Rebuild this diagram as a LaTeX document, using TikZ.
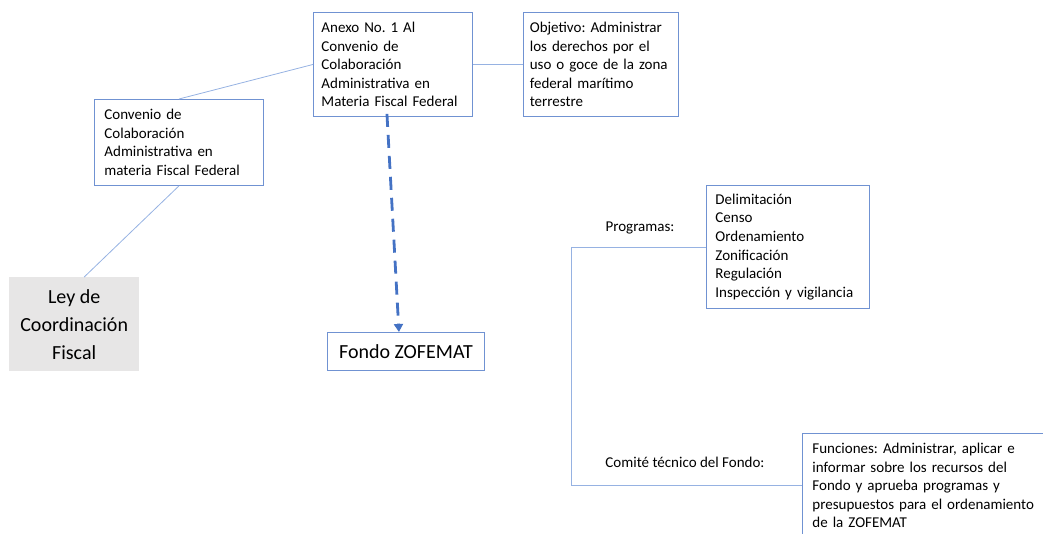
\documentclass[tikz,border=0pt]{standalone}
\usepackage{fontspec}
\setmainfont{Carlito}
\usetikzlibrary{positioning,arrows.meta}
\definecolor{bxblue}{RGB}{112,146,210}
\definecolor{lnblue}{RGB}{150,178,226}
\definecolor{arblue}{RGB}{68,114,196}
\definecolor{leygray}{RGB}{231,230,230}
\frenchspacing
\tikzset{
  bx/.style={draw=bxblue, line width=0.9pt, font=\fontsize{15}{18.6}\selectfont, align=left, inner xsep=8pt, inner ysep=4pt, anchor=north west},
  ley/.style={fill=leygray, font=\fontsize{20}{28}\selectfont, align=center, inner sep=0pt, minimum width=130pt, minimum height=94pt, anchor=north west},
  fondo/.style={draw=bxblue, line width=0.9pt, font=\fontsize{20}{24}\selectfont, minimum width=157pt, minimum height=38pt, inner sep=0pt, anchor=north west},
  lbl/.style={font=\fontsize{15}{18}\selectfont, inner sep=0pt},
  ln/.style={draw=lnblue, line width=0.8pt},
  dsh/.style={-{Triangle[length=8pt,width=9pt]}, arblue, line width=2.8pt, dash pattern=on 13pt off 8pt},
}

\begin{document}
\begin{tikzpicture}[x=1pt,y=-1pt]
\useasboundingbox (0,0) rectangle (1043,533);
\clip (0,0) rectangle (1043,533);
\node[bx, text width=143pt, minimum height=104pt] (anexo) at (313,12)
  {Anexo No. 1 Al\\Convenio de\\Colaboración\\Administrativa en\\Materia Fiscal Federal};
\node[bx, inner xsep=6.5pt, text width=142pt, minimum height=104pt, right=50pt of anexo] (obj)
  {Objetivo: Administrar\\los derechos por el\\uso o goce de la zona\\federal marítimo\\terrestre};
\node[bx, inner xsep=10pt, text width=149pt, minimum height=86pt] (conv) at (94,99)
  {Convenio de\\Colaboración\\Administrativa en\\materia Fiscal Federal};
\node[ley] (lcf) at (9,277) {Ley de\\Coordinación\\Fiscal};
\node[fondo] (fz) at (327,332) {Fondo ZOFEMAT};
\node[bx, inner xsep=9pt, text width=145pt, minimum height=123pt] (prog) at (706,185)
  {Delimitación\\Censo\\Ordenamiento\\Zonificación\\Regulación\\Inspección y vigilancia};
\node[bx, inner xsep=10pt, text width=240pt, minimum height=104pt] (func) at (802,433)
  {Funciones: Administrar, aplicar e\\informar sobre los recursos del\\Fondo y aprueba programas y\\presupuestos para el ordenamiento\\de la ZOFEMAT};
\node[lbl] (lprog) at (640,228) {Programas:};
\node[lbl] (lcom) at (685,462) {Comité técnico del Fondo:};
\coordinate (bk) at (571,485);
\draw[ln] (conv.north) -- (anexo.west);
\draw[ln] (conv.south) -- ([xshift=10pt]lcf.north);
\draw[ln] (anexo.east) -- (obj.west);
\draw[ln] (prog.west) -| (bk) -- (func.west |- bk);
\draw[dsh] ([xshift=-6pt,yshift=3pt]anexo.south) -- ([xshift=-7pt]fz.north);
\end{tikzpicture}
\end{document}
